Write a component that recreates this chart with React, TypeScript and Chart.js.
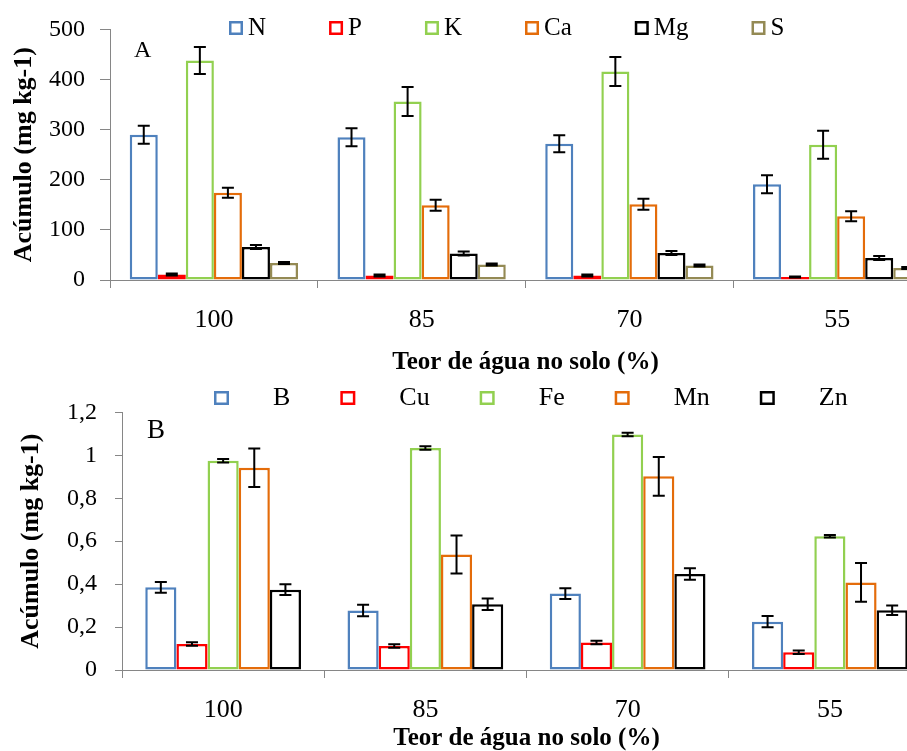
import React, { useEffect, useRef } from 'react';
import { Chart, registerables } from 'chart.js';

Chart.register(...registerables);

// ---------- data ----------
const categories = ['100', '85', '70', '55'];

// Panel A: macronutrients (mg kg-1)
const macroNames = ['N', 'P', 'K', 'Ca', 'Mg', 'S'];
const N = [290, 285, 272, 191];
const P = [11, 9, 9, 6];
const K = [438, 356, 416, 270];
const Ca = [174, 149, 151, 127];
const Mg = [66, 53, 54, 44];
const S = [34, 31, 29, 24];
const errN = [18, 18, 17, 18];
const errP = [2, 2, 2, 1];
const errK = [27, 29, 29, 28];
const errCa = [10, 11, 11, 10];
const errMg = [4, 4, 4, 4];
const errS = [2, 2, 2, 2];
const macroTicks = ['0', '100', '200', '300', '400', '500'];

// Panel B: micronutrients (mg kg-1)
const microNames = ['B', 'Cu', 'Fe', 'Mn', 'Zn'];
const Bo = [0.385, 0.277, 0.356, 0.225];
const Cu = [0.121, 0.112, 0.128, 0.083];
const Fe = [0.975, 1.034, 1.097, 0.623];
const Mn = [0.942, 0.538, 0.902, 0.408];
const Zn = [0.374, 0.306, 0.447, 0.278];
const errB = [0.025, 0.027, 0.025, 0.026];
const errCu = [0.008, 0.008, 0.008, 0.008];
const errFe = [0.008, 0.008, 0.008, 0.006];
const errMn = [0.09, 0.088, 0.09, 0.09];
const errZn = [0.025, 0.027, 0.027, 0.022];
const microTicks = ['0', '0,2', '0,4', '0,6', '0,8', '1', '1,2'];

const xTitle = 'Teor de água no solo (%)';
const yTitle = 'Acúmulo (mg kg-1)';

// ---------- styles ----------
const FONT = '"Liberation Serif", "Times New Roman", serif';
const AXIS = '#868686';
const macroColors = ['#4F81BD', '#FF0000', '#92D050', '#E46C0A', '#000000', '#948A54'];
const microColors = ['#4F81BD', '#FF0000', '#92D050', '#E46C0A', '#000000'];

const errorBarPlugin = {
  id: 'errorBars',
  afterDatasetsDraw(chart: any, _args: any, opts: any) {
    const errs = opts.errors;
    if (!errs) return;
    const y = chart.scales.y;
    const ctx = chart.ctx;
    const cap = opts.cap || 12;
    ctx.save();
    ctx.strokeStyle = '#000';
    ctx.lineWidth = 2;
    chart.data.datasets.forEach((ds: any, i: number) => {
      const meta = chart.getDatasetMeta(i);
      meta.data.forEach((el: any, j: number) => {
        const v = ds.data[j];
        const e = errs[i][j];
        const x = el.x;
        const t = y.getPixelForValue(v + e);
        const b = y.getPixelForValue(Math.max(0, v - e));
        ctx.beginPath();
        ctx.moveTo(x, t);
        ctx.lineTo(x, b);
        ctx.moveTo(x - cap / 2, t);
        ctx.lineTo(x + cap / 2, t);
        ctx.moveTo(x - cap / 2, b);
        ctx.lineTo(x + cap / 2, b);
        ctx.stroke();
      });
    });
    ctx.restore();
  },
};

const boxLegendPlugin = {
  id: 'boxLegend',
  afterDraw(chart: any, _args: any, o: any) {
    if (!o || o.x === undefined) return;
    const ctx = chart.ctx;
    ctx.save();
    ctx.font = o.font;
    ctx.textBaseline = 'middle';
    let x = o.x;
    chart.data.datasets.forEach((ds: any) => {
      ctx.fillStyle = '#fff';
      ctx.fillRect(x, o.y - o.boxH / 2, o.boxW, o.boxH);
      ctx.strokeStyle = ds.borderColor;
      ctx.lineWidth = 2.5;
      ctx.strokeRect(x + 1.25, o.y - o.boxH / 2 + 1.25, o.boxW - 2.5, o.boxH - 2.5);
      const tx = x + o.boxW + o.textGap;
      ctx.fillStyle = '#000';
      ctx.textAlign = 'left';
      ctx.fillText(ds.label, tx, o.y);
      x = tx + ctx.measureText(ds.label).width + o.itemGap;
    });
    ctx.font = o.tagFont;
    ctx.textBaseline = 'alphabetic';
    ctx.fillStyle = '#000';
    ctx.fillText(o.tag, o.tagX, o.tagY);
    ctx.restore();
  },
};

function makeConfig(p: any) {
  return {
    type: 'bar',
    data: {
      labels: categories,
      datasets: p.names.map((name: string, i: number) => ({
        label: name,
        data: p.values[i],
        backgroundColor: '#ffffff',
        borderColor: p.colors[i],
        borderWidth: 2.5,
        borderSkipped: false,
        categoryPercentage: p.catPct,
        barPercentage: 1,
      })),
    },
    options: {
      responsive: false,
      animation: false,
      devicePixelRatio: 1,
      events: [],
      layout: { padding: { top: p.padTop, left: 0, right: 0, bottom: 0 } },
      plugins: {
        legend: { display: false },
        tooltip: { enabled: false },
        errorBars: { errors: p.errors, cap: 12 },
        boxLegend: p.legend,
      },
      scales: {
        x: {
          ticks: { color: '#000', font: { family: FONT, size: 26 }, padding: p.xPad },
          grid: { drawOnChartArea: false, drawTicks: true, tickLength: 8, color: AXIS, offset: true },
          border: { color: AXIS, width: 1 },
          title: {
            display: true,
            text: xTitle,
            color: '#000',
            font: { family: FONT, size: 25, weight: 'bold' },
            padding: { top: 0, bottom: p.xTitlePad },
          },
          afterFit: (s: any) => {
            s.height = p.xHeight;
          },
        },
        y: {
          min: 0,
          max: p.max,
          ticks: {
            stepSize: p.step,
            color: '#000',
            font: { family: FONT, size: 24 },
            padding: p.yPad,
            callback: (_v: any, i: number) => p.ticks[i],
          },
          grid: { drawOnChartArea: false, drawTicks: true, tickLength: p.yTick, color: AXIS },
          border: { color: AXIS, width: 1 },
          title: {
            display: true,
            text: yTitle,
            color: '#000',
            font: { family: FONT, size: 26, weight: 'bold' },
            padding: { top: p.yTitlePad, bottom: 0 },
          },
          afterFit: (s: any) => {
            s.width = p.yWidth;
          },
        },
      },
    },
    plugins: [errorBarPlugin, boxLegendPlugin],
  };
}

const panelA = {
  names: macroNames,
  values: [N, P, K, Ca, Mg, S],
  errors: [errN, errP, errK, errCa, errMg, errS],
  colors: macroColors,
  catPct: 0.81,
  padTop: 24,
  xPad: 16.4,
  xTitlePad: 7,
  xHeight: 105,
  max: 500,
  step: 100,
  ticks: macroTicks,
  yPad: 15,
  yTick: 10,
  yTitlePad: 9,
  yWidth: 110,
  legend: {
    x: 229, y: 28, boxW: 14, boxH: 14, textGap: 5, itemGap: 63,
    font: `25px ${FONT}`,
    tag: 'A', tagX: 134, tagY: 57, tagFont: `24px ${FONT}`,
  },
};

const panelB = {
  names: microNames,
  values: [Bo, Cu, Fe, Mn, Zn],
  errors: [errB, errCu, errFe, errMn, errZn],
  colors: microColors,
  catPct: 0.77,
  padTop: 20,
  xPad: 16.4,
  xTitlePad: 16,
  xHeight: 100,
  max: 1.2,
  step: 0.2,
  ticks: microTicks,
  yPad: 18,
  yTick: 7,
  yTitlePad: 16,
  yWidth: 122,
  legend: {
    x: 214, y: 18, boxW: 15, boxH: 14, textGap: 44, itemGap: 50,
    font: `26px ${FONT}`,
    tag: 'B', tagX: 147, tagY: 58, tagFont: `27px ${FONT}`,
  },
};

function BarPanel(props: { cfg: any; left: number; top: number; width: number; height: number }) {
  const ref = useRef<HTMLCanvasElement | null>(null);
  useEffect(() => {
    if (!ref.current) return;
    const chart = new Chart(ref.current, makeConfig(props.cfg) as any);
    return () => chart.destroy();
  }, []);
  return (
    <canvas
      ref={ref}
      width={props.width}
      height={props.height}
      style={{
        position: 'absolute',
        left: props.left,
        top: props.top,
        width: props.width,
        height: props.height,
        display: 'block',
      }}
    />
  );
}

export default function App() {
  return (
    <div
      style={{
        position: 'fixed',
        left: 0,
        top: 0,
        width: 907,
        height: 751,
        overflow: 'hidden',
        background: '#fff',
      }}
    >
      <BarPanel cfg={panelA} left={0} top={0} width={941} height={385} />
      <BarPanel cfg={panelB} left={0} top={380} width={931} height={390} />
    </div>
  );
}
